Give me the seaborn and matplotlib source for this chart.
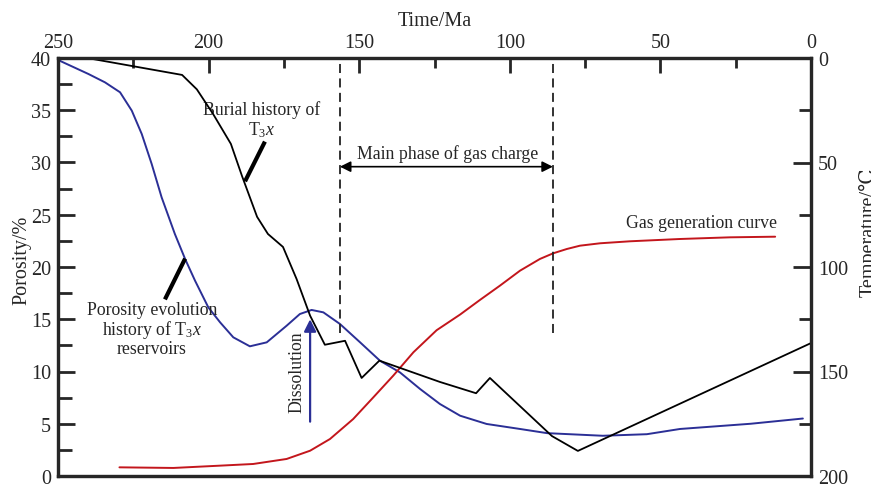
import numpy as np
import pandas as pd
import matplotlib
matplotlib.use("Agg")
import matplotlib.pyplot as plt
import seaborn as sns

# ---------------- data ----------------
burial_time = [238.4, 208.8, 203.9, 198.5, 192.6, 188.9, 183.9, 180.3, 175.3, 170.8,
               166.3, 161.4, 154.7, 149.2, 143.3, 123.2, 111.2, 106.6, 86.0, 77.4, 0.0]
burial_temp = [0.5, 8.1, 15.0, 26.8, 41.1, 56.5, 76.0, 84.2, 90.4, 105.7,
               123.3, 137.2, 135.3, 153.1, 144.8, 155.0, 160.4, 153.1, 180.9, 188.0, 136.4]

poro_time = [250.0, 249.0, 239.9, 234.4, 229.4, 225.5, 222.2, 218.9, 215.6, 211.2,
             207.8, 204.5, 200.1, 196.2, 191.8, 186.3, 180.7, 174.1, 169.7, 165.8,
             161.9, 156.4, 149.7, 143.1, 136.5, 129.8, 123.2, 116.5, 107.7, 96.6,
             87.6, 69.1, 54.5, 43.5, 20.0, 2.7]
poro_val = [39.9, 39.68, 38.47, 37.67, 36.72, 34.96, 32.73, 29.86, 26.67, 23.16,
            20.77, 18.69, 16.14, 14.71, 13.27, 12.41, 12.79, 14.38, 15.50, 15.89,
            15.66, 14.55, 12.79, 11.03, 9.92, 8.33, 6.89, 5.77, 4.98, 4.50,
            4.10, 3.85, 4.00, 4.50, 5.00, 5.50]

gas_time = [229.6, 211.7, 196.2, 185.2, 174.1, 166.3, 159.7, 152.0, 145.3, 138.7,
            132.0, 124.3, 116.5, 109.9, 103.3, 96.6, 90.0, 85.6, 81.1, 76.7,
            70.0, 60.1, 43.5, 26.9, 11.9]
gas_val = [0.83, 0.77, 0.99, 1.15, 1.63, 2.42, 3.54, 5.45, 7.53, 9.60,
           11.84, 13.95, 15.45, 16.85, 18.21, 19.65, 20.77, 21.31, 21.72, 22.04,
           22.27, 22.46, 22.68, 22.84, 22.90]

charge_start, charge_end = 156.4, 85.7
dashed_bottom = 13.7
dissolution_time, dissolution_from, dissolution_to = 166.3, 5.2, 15.0

time_ticks = [250, 200, 150, 100, 50, 0]
poro_ticks = [0, 5, 10, 15, 20, 25, 30, 35, 40]
temp_ticks = [0, 50, 100, 150, 200]

# ---------------- style ----------------
sns.set_style("ticks")
plt.rcParams["font.family"] = ["Liberation Serif", "DejaVu Serif"]
plt.rcParams["mathtext.fontset"] = "custom"
plt.rcParams["mathtext.rm"] = "Liberation Serif"
plt.rcParams["mathtext.it"] = "Liberation Serif:italic"

BLUE = "#2b2f96"
RED = "#c3161c"
FS_TICK = 14.5
FS_TXT = 12.8

fig = plt.figure(figsize=(8.71, 4.85), dpi=100)
ax = fig.add_axes([58 / 871, 1 - 477 / 485, (811 - 58) / 871, (477 - 59) / 485])
ax2 = ax.twinx()

df_poro = pd.DataFrame({"t": poro_time, "p": poro_val})
df_gas = pd.DataFrame({"t": gas_time, "p": gas_val})
df_bur = pd.DataFrame({"t": burial_time, "T": burial_temp})

sns.lineplot(data=df_poro, x="t", y="p", ax=ax, color=BLUE, lw=1.4, sort=False)
sns.lineplot(data=df_gas, x="t", y="p", ax=ax, color=RED, lw=1.4, sort=False)
sns.lineplot(data=df_bur, x="t", y="T", ax=ax2, color="black", lw=1.3, sort=False)

ax.set_xlim(250, 0)
ax.set_ylim(0, 40)
ax2.set_ylim(200, 0)

# axes / ticks
ax.xaxis.tick_top()
ax.xaxis.set_label_position("top")
ax.set_xticks(time_ticks)
ax.set_xticks(np.arange(0, 251, 25), minor=True)
ax.set_yticks(poro_ticks)
ax.set_yticks(np.arange(0, 40.1, 2.5), minor=True)
ax2.set_yticks(temp_ticks)
ax2.set_yticks(np.arange(0, 201, 25), minor=True)

ax.tick_params(axis="x", which="major", direction="in", length=11, width=2, labelsize=FS_TICK, pad=4,
               top=True, bottom=False)
ax.tick_params(axis="x", which="minor", direction="in", length=7, width=2, top=True, bottom=False)
ax.tick_params(axis="y", which="major", direction="in", length=12, width=2, labelsize=FS_TICK, pad=5)
ax.tick_params(axis="y", which="minor", direction="in", length=10, width=2)
ax2.tick_params(axis="y", which="major", direction="in", length=13, width=2, labelsize=FS_TICK, pad=5)
ax2.tick_params(axis="y", which="minor", direction="in", length=9, width=2)

for a in (ax, ax2):
    for s in a.spines.values():
        s.set_linewidth(2.3)
        s.set_visible(True)

ax.set_xlabel("Time/Ma", fontsize=FS_TICK, labelpad=6)
ax.set_ylabel("")
ax2.set_ylabel("")
fig.text(12 / 871, 1 - 260 / 485, "Porosity/%", rotation=90, ha="left", va="center", fontsize=FS_TICK)
fig.text(859 / 871, 1 - 232 / 485, "Temperature/℃", rotation=90, ha="left", va="center", fontsize=FS_TICK)

# dashed lines for main phase of gas charge
for tc in (charge_start, charge_end):
    ax.plot([tc, tc], [dashed_bottom, 40], color="#222222", lw=1.3, ls=(0, (5, 3)))
ax.annotate("", xy=(charge_start, 29.6), xytext=(charge_end, 29.6),
            arrowprops=dict(arrowstyle="<|-|>", color="black", lw=1.2, mutation_scale=16,
                            shrinkA=0, shrinkB=0))
ax.text(120.5, 30.9, "Main phase of gas charge", ha="center", va="center", fontsize=FS_TXT)

# dissolution arrow
ax.annotate("", xy=(dissolution_time, dissolution_to), xytext=(dissolution_time, dissolution_from),
            arrowprops=dict(arrowstyle="-|>", color=BLUE, lw=1.6, mutation_scale=18,
                            shrinkA=0, shrinkB=0))
ax.text(170.6, 10.0, "Dissolution", rotation=90, ha="center", va="center", fontsize=FS_TXT)

# annotations
ax.text(182.3, 34.1, "Burial history of\nT$_3x$", ha="center", va="center", fontsize=FS_TXT,
        linespacing=1.05)
ax.plot([181.3, 187.9], [32.0, 28.2], color="black", lw=3.0, solid_capstyle="butt")

ax.text(218.8, 14.1, "Porosity evolution\nhistory of T$_3x$\nreservoirs", ha="center", va="center",
        fontsize=FS_TXT, linespacing=1.0)
ax.plot([207.8, 214.5], [20.8, 16.9], color="black", lw=3.0, solid_capstyle="butt")

ax.text(36.5, 24.3, "Gas generation curve", ha="center", va="center", fontsize=FS_TXT)

fig.savefig("out.png", dpi=100)
